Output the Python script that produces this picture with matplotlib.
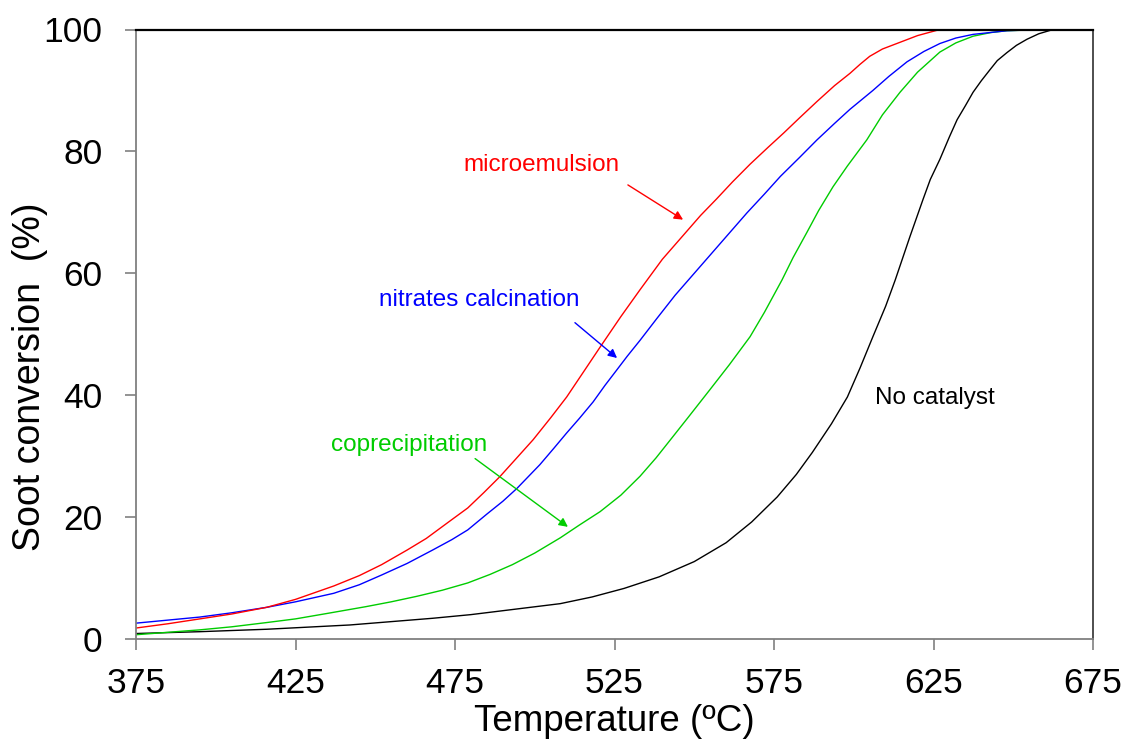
import matplotlib
matplotlib.use("Agg")
import matplotlib.pyplot as plt

plt.rcParams['font.family'] = ['Liberation Sans', 'DejaVu Sans']

# Temperature (ºC) / soot conversion (%)
temp_micro = [375, 385, 395, 405, 416, 425, 437, 445, 452, 460, 466, 473, 479, 484, 489,
              494, 499.5, 505, 510, 515, 520.5, 527, 533, 540, 546.5, 552, 557, 562,
              567.5, 573, 578, 583, 588.5, 594, 598.8, 602, 605, 609, 614.5, 620, 627, 675]
conv_micro = [1.8, 2.5, 3.3, 4.1, 5.2, 6.5, 8.7, 10.4, 12.2, 14.6, 16.5, 19.2, 21.5, 24.0,
              26.6, 29.5, 32.7, 36.3, 39.7, 43.6, 47.9, 52.9, 57.3, 62.3, 66.2, 69.5, 72.2,
              75.0, 77.9, 80.6, 83.0, 85.5, 88.2, 90.8, 92.8, 94.3, 95.6, 96.8, 97.9, 99.0,
              100, 100]

temp_nitr = [375, 385, 395, 405, 416, 425, 437, 445, 452, 460, 468, 474, 479, 485, 490,
             494.4, 501.6, 506, 510, 514, 518.3, 522, 525.8, 529, 533, 538.3, 544, 550,
             557, 562, 566.5, 572, 577, 583, 588.5, 594, 598.8, 606, 611, 616.7, 622, 627,
             632, 637.4, 648, 658.4, 675]
conv_nitr = [2.6, 3.1, 3.6, 4.3, 5.2, 6.1, 7.5, 8.9, 10.5, 12.4, 14.6, 16.3, 17.9, 20.5,
             22.6, 24.7, 28.6, 31.3, 33.8, 36.2, 38.9, 41.6, 44.2, 46.4, 49.0, 52.6, 56.4,
             60.0, 64.2, 67.2, 69.9, 73.0, 75.9, 79.0, 81.9, 84.6, 86.9, 90.0, 92.3, 94.7,
             96.4, 97.7, 98.6, 99.2, 99.8, 100, 100]

temp_copr = [375, 385, 395, 405, 416, 425, 435, 447, 455, 463, 471, 479, 486, 493, 500,
             508, 514, 520.5, 527, 533, 538, 542.4, 548, 554.9, 561, 567.5, 572, 577.5,
             581, 585.3, 589, 593.5, 598, 604.1, 609, 614.5, 620, 627, 632, 637.4, 643,
             648, 660.6, 675]
conv_copr = [0.7, 1.1, 1.5, 2.0, 2.7, 3.3, 4.2, 5.3, 6.1, 7.0, 8.0, 9.2, 10.6, 12.2, 14.1,
             16.6, 18.7, 20.9, 23.6, 26.7, 29.7, 32.6, 36.3, 40.9, 45.0, 49.6, 53.6, 58.9,
             62.6, 66.7, 70.3, 74.2, 77.6, 81.9, 86.0, 89.7, 93.0, 96.3, 97.8, 98.9, 99.5,
             99.8, 100, 100]

temp_none = [375, 395, 416, 442, 468, 480, 494, 508, 518, 528, 539, 550, 560, 568, 576,
             582, 587, 593, 598, 602, 606, 610, 613, 617.6, 621.7, 624, 627, 630, 632.4,
             635, 637.4, 640, 642.7, 645, 648, 651, 654.3, 658, 662.5, 675]
conv_none = [0.9, 1.2, 1.6, 2.3, 3.4, 4.0, 4.9, 5.8, 6.9, 8.3, 10.2, 12.7, 15.8, 19.2, 23.3,
             27.0, 30.6, 35.3, 39.7, 44.5, 49.6, 54.6, 58.9, 66.0, 72.1, 75.4, 78.7, 82.4,
             85.2, 87.5, 89.7, 91.6, 93.4, 94.9, 96.2, 97.4, 98.4, 99.3, 100, 100]

x_ticks = [375, 425, 475, 525, 575, 625, 675]
y_ticks = [0, 20, 40, 60, 80, 100]

RED = '#FF0000'
BLUE = '#0000FF'
GREEN = '#00CC00'
BLACK = '#000000'
GRAY = '#808080'

W, H = 1132, 751
fig = plt.figure(figsize=(W / 100, H / 100), dpi=100)
ax = fig.add_axes([136 / W, 1 - 639 / H, (1093 - 136) / W, (639 - 29.5) / H])

lw = 1.0
ax.plot(temp_none, conv_none, color=BLACK, lw=lw)
ax.plot(temp_copr, conv_copr, color=GREEN, lw=lw)
ax.plot(temp_nitr, conv_nitr, color=BLUE, lw=lw)
ax.plot(temp_micro, conv_micro, color=RED, lw=lw)

ax.set_xlim(375, 675)
ax.set_ylim(0, 100)
ax.set_xticks(x_ticks)
ax.set_yticks(y_ticks)
ax.set_xticklabels([str(v) for v in x_ticks])
ax.set_yticklabels([str(v) for v in y_ticks])

ax.tick_params(axis='both', direction='out', length=8, width=1.2, color=GRAY,
               labelsize=25.5, labelcolor='black')
ax.tick_params(axis='x', pad=12)
ax.tick_params(axis='y', pad=16)

for side in ['left', 'bottom']:
    ax.spines[side].set_color(GRAY)
    ax.spines[side].set_linewidth(1.3)
ax.spines['top'].set_color(BLACK)
ax.spines['top'].set_linewidth(1.6)
ax.spines['right'].set_color('#404040')
ax.spines['right'].set_linewidth(1.3)

ax.set_xlabel('Temperature (ºC)', fontsize=26.5, labelpad=3)
fig.text(30 / W, 1 - 377 / H, 'Soot conversion  (%)', rotation=90, fontsize=27,
         ha='center', va='center')

fs = 17.5
arrow_kw = dict(lw=1.0, mutation_scale=13, shrinkA=0, shrinkB=0, arrowstyle='-|>')
ax.text(502.0, 77.8, 'microemulsion', color=RED, fontsize=fs, ha='center', va='center')
ax.annotate('', xy=(546.5, 68.8), xytext=(529.2, 74.5),
            arrowprops=dict(color=RED, **arrow_kw))
ax.text(482.7, 55.7, 'nitrates calcination', color=BLUE, fontsize=fs, ha='center', va='center')
ax.annotate('', xy=(525.8, 46.1), xytext=(512.6, 51.9),
            arrowprops=dict(color=BLUE, **arrow_kw))
ax.text(460.6, 31.9, 'coprecipitation', color=GREEN, fontsize=fs, ha='center', va='center')
ax.annotate('', xy=(510.4, 18.4), xytext=(481.3, 29.6),
            arrowprops=dict(color=GREEN, **arrow_kw))
ax.text(625.5, 39.6, 'No catalyst', color=BLACK, fontsize=fs, ha='center', va='center')

fig.savefig('out.png', dpi=100)
